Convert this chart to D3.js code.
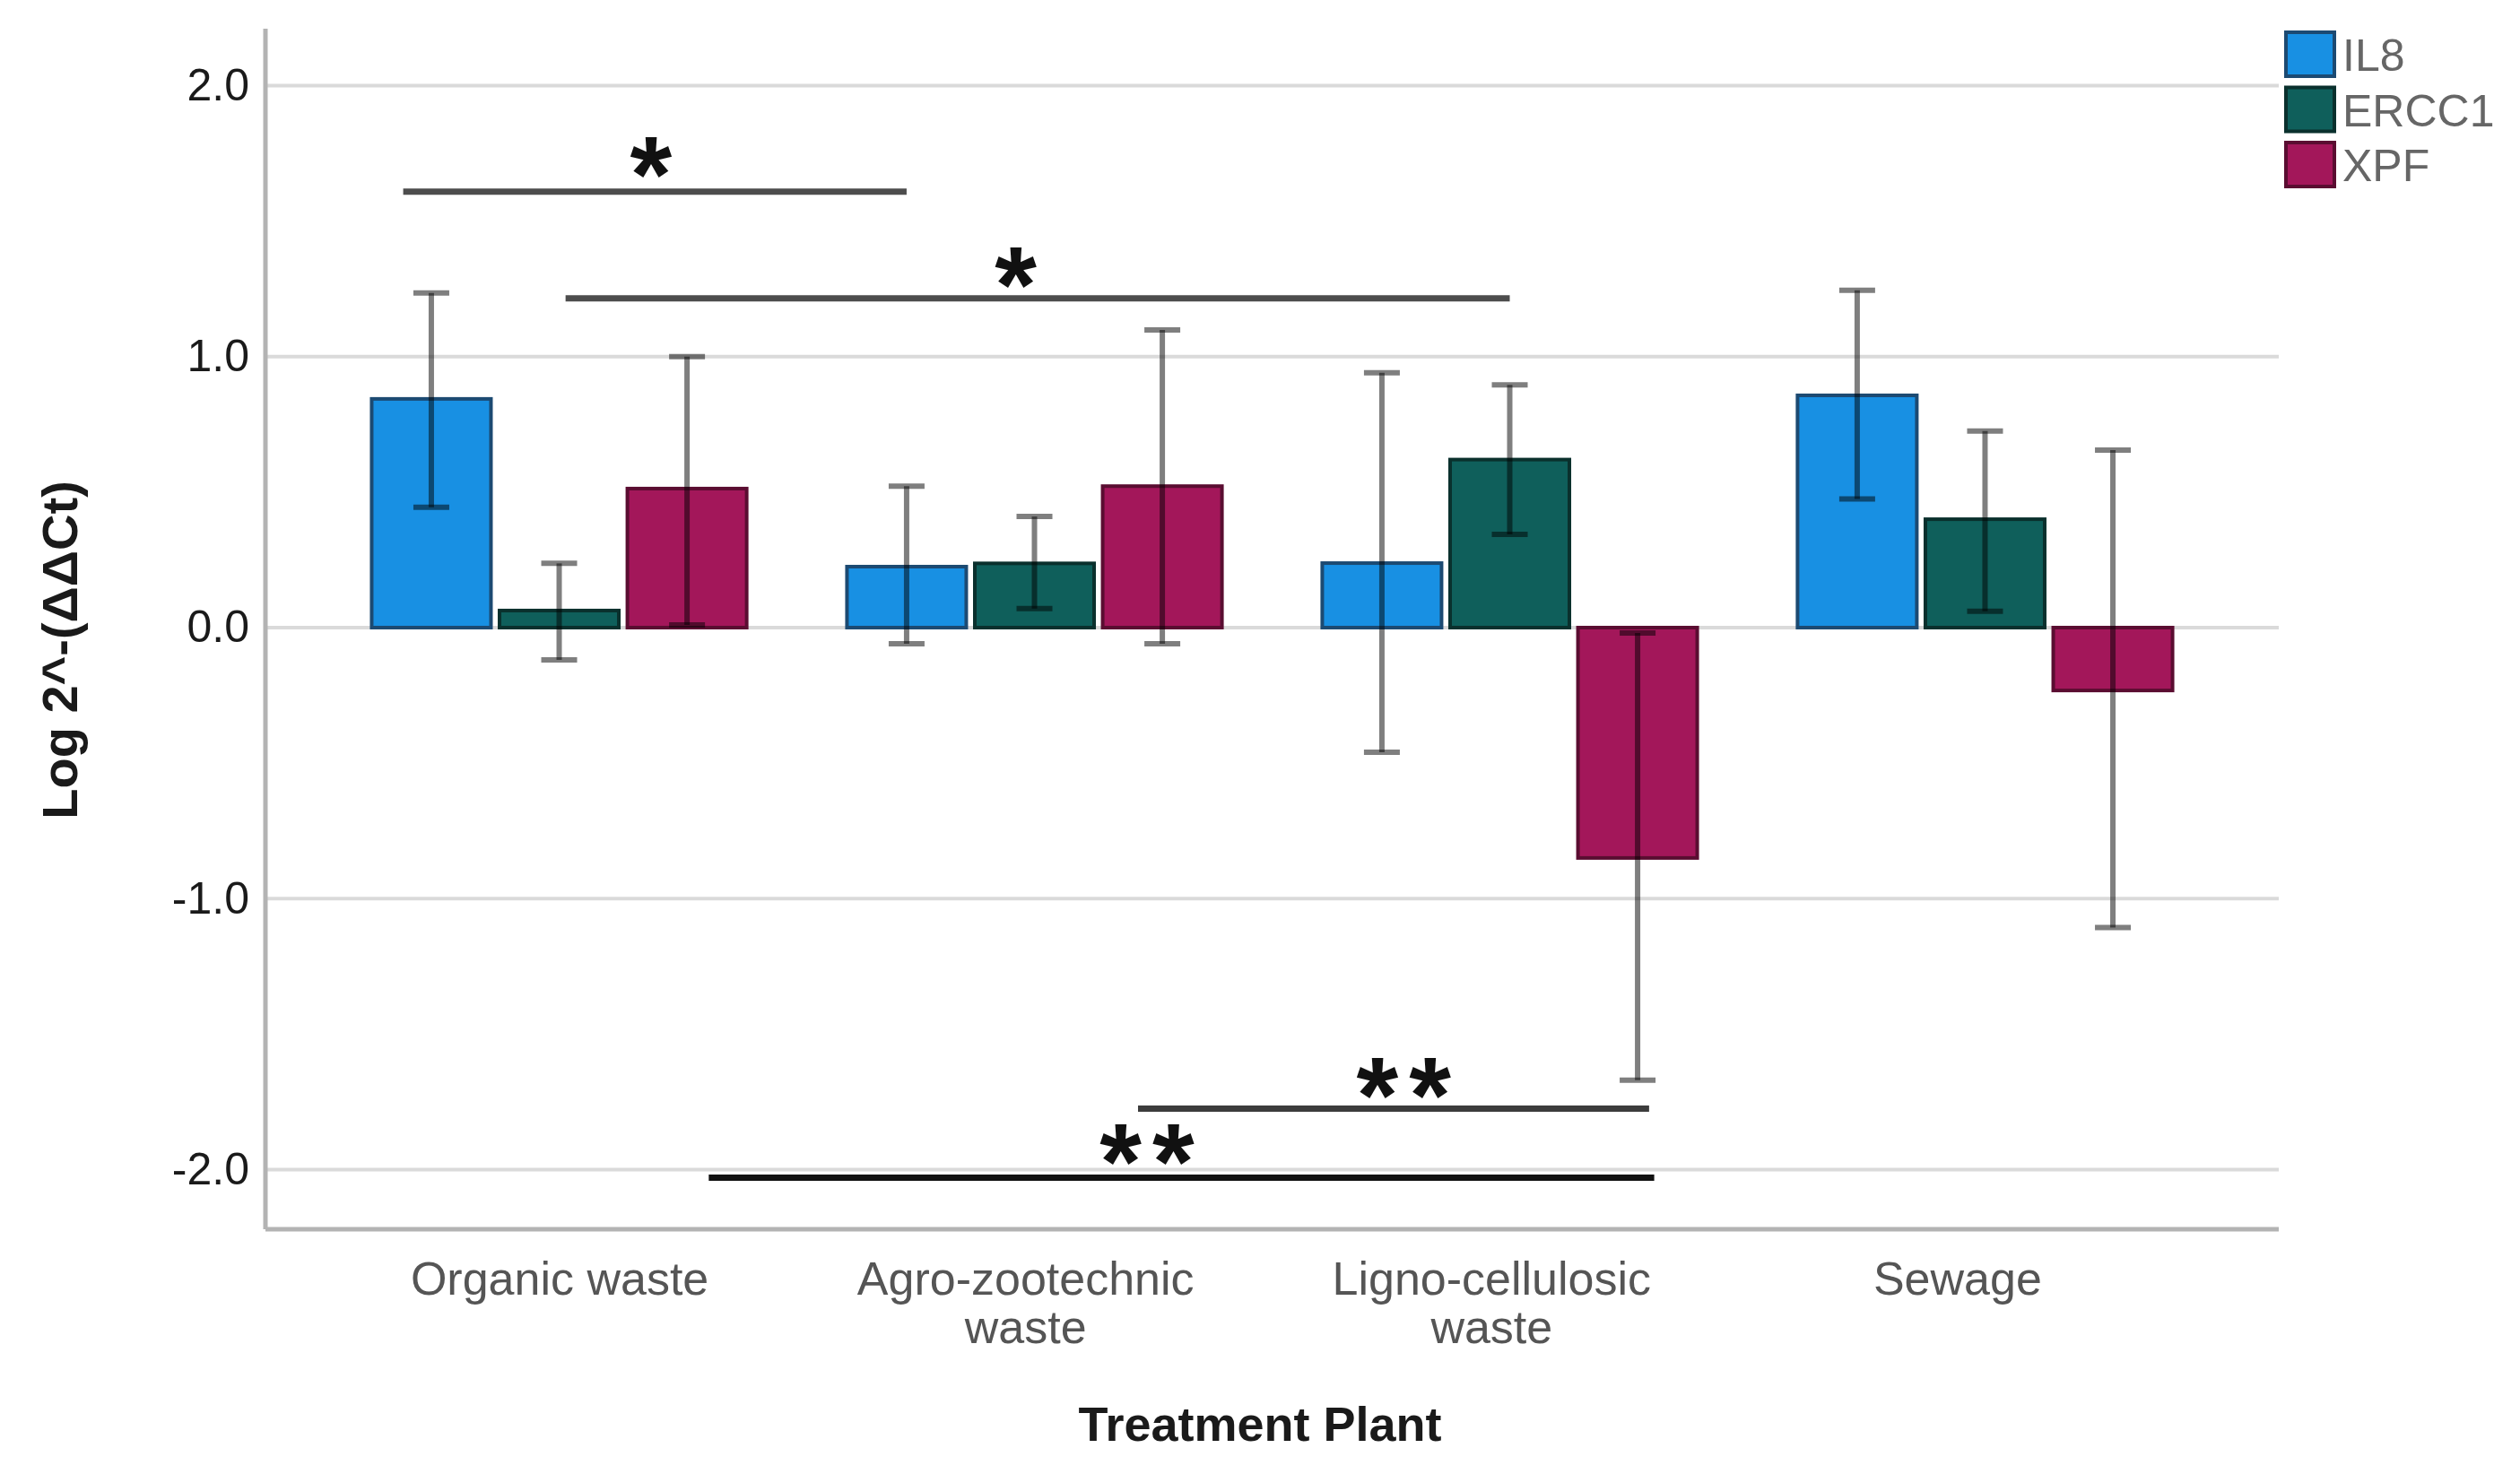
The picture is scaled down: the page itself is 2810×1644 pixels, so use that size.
<!DOCTYPE html>
<html lang='en'>
<head>
<meta charset="utf-8">
<script src="https://d3js.org/d3.v7.min.js"></script>
<style>
body { margin: 0; background: #fff; }
svg { display: block; font-family: "Liberation Sans", Arial, sans-serif; }
</style>
</head>
<body>
<svg id="chart" width="2810" height="1644"></svg>
<script>

// categories and series
var categories = ["Organic waste", "Agro-zootechnic waste", "Ligno-cellulosic waste", "Sewage"];
var categoryLines = [["Organic waste"], ["Agro-zootechnic", "waste"], ["Ligno-cellulosic", "waste"], ["Sewage"]];
var series = ["IL8", "ERCC1", "XPF"];
var seriesColors = ["#1890e3", "#0f5f5b", "#a3175a"];
var seriesStroke = ["#1c4a72", "#0a302d", "#5a0d31"];

// means and error bar ends
var il8Mean = [0.844, 0.225, 0.238, 0.857];
var il8Low = [0.444, -0.06, -0.46, 0.475];
var il8High = [1.235, 0.522, 0.94, 1.245];

var ercc1Mean = [0.063, 0.237, 0.62, 0.40];
var ercc1Low = [-0.119, 0.07, 0.344, 0.06];
var ercc1High = [0.237, 0.41, 0.896, 0.725];

var xpfMean = [0.513, 0.522, -0.85, -0.232];
var xpfLow = [0.01, -0.06, -1.67, -1.107];
var xpfHigh = [1.0, 1.098, -0.02, 0.655];

var yTicks = [-2, -1, 0, 1, 2];
var yTickLabels = ["-2.0", "-1.0", "0.0", "1.0", "2.0"];

// significance brackets (group index + offset in bar slots from group centre)
var sigFromGroup = [0, 0, 1, 0];
var sigFromOffset = [-1.22, 0.05, 0.81, 1.17];
var sigToGroup = [1, 2, 2, 2];
var sigToOffset = [-1.0, 0.0, 1.09, 1.13];
var sigLevel = [1.609, 1.215, -1.775, -2.03];
var sigMark = ["*", "*", "**", "**"];
var sigMarkGroup = [0, 1, 2, 1];
var sigMarkOffset = [0.76, -0.105, -0.83, 0.88];
var sigMarkLevel = [1.745, 1.338, -1.652, -1.897];
var sigColor = ["#4d4d4d", "#4d4d4d", "#3c3c3c", "#111111"];

var means = [il8Mean, ercc1Mean, xpfMean];
var lows = [il8Low, ercc1Low, xpfLow];
var highs = [il8High, ercc1High, xpfHigh];

var rows = [];
categories.forEach(function(c, i) {
  series.forEach(function(s, k) {
    rows.push({cat: c, ser: s, k: k, mean: means[k][i], low: lows[k][i], high: highs[k][i]});
  });
});

var svg = d3.select("#chart");
var plotL = 296, plotR = 2541, plotT = 32, plotB = 1371;

var y = d3.scaleLinear().domain([-2.22, 2.21]).range([plotB, plotT]);

var x0 = d3.scaleBand().domain(categories).range([plotL, plotR])
  .paddingInner(0.193).paddingOuter(0.2145);
var x1 = d3.scaleBand().domain(series).range([0, x0.bandwidth()])
  .paddingInner(0.067).paddingOuter(0.0335);
// the category labels sit on a slightly tighter spacing than the bar groups
var xLab = d3.scaleBand().domain(categories).range([303, 2504])
  .paddingInner(0.193).paddingOuter(0.2145);

function slotX(g, off) {
  return x0(categories[g]) + x0.bandwidth() / 2 + off * x1.step();
}

// gridlines
svg.append("g")
  .selectAll("line")
  .data(yTicks)
  .enter().append("line")
  .attr("x1", plotL).attr("x2", plotR)
  .attr("y1", function(d) { return y(d); })
  .attr("y2", function(d) { return y(d); })
  .style("stroke", "#dadada")
  .style("stroke-width", 4);

// y tick labels
var yAxis = svg.append("g")
  .attr("transform", "translate(" + (plotL - 18) + ",0)")
  .call(d3.axisLeft(y).tickValues(yTicks)
    .tickFormat(function(d, i) { return yTickLabels[i]; })
    .tickSize(0).tickPadding(0));
yAxis.select(".domain").remove();
yAxis.selectAll("text")
  .style("font-family", "Liberation Sans, Arial, sans-serif")
  .style("font-size", "50px")
  .style("fill", "#1a1a1a");

// bars
svg.append("g")
  .selectAll("rect")
  .data(rows)
  .enter().append("rect")
  .attr("x", function(d) { return x0(d.cat) + x1(d.ser); })
  .attr("width", x1.bandwidth())
  .attr("y", function(d) { return y(Math.max(0, d.mean)); })
  .attr("height", function(d) { return Math.abs(y(d.mean) - y(0)); })
  .style("fill", function(d) { return seriesColors[d.k]; })
  .style("stroke", function(d) { return seriesStroke[d.k]; })
  .style("stroke-width", 4);

// error bars
var eb = svg.append("g")
  .selectAll("g")
  .data(rows)
  .enter().append("g")
  .style("stroke", "#000")
  .style("stroke-opacity", 0.5)
  .style("stroke-width", 6);

eb.append("line")
  .attr("x1", function(d) { return x0(d.cat) + x1(d.ser) + x1.bandwidth() / 2; })
  .attr("x2", function(d) { return x0(d.cat) + x1(d.ser) + x1.bandwidth() / 2; })
  .attr("y1", function(d) { return y(d.low); })
  .attr("y2", function(d) { return y(d.high); });

["low", "high"].forEach(function(end) {
  eb.append("line")
    .attr("x1", function(d) { return x0(d.cat) + x1(d.ser) + x1.bandwidth() / 2 - 20; })
    .attr("x2", function(d) { return x0(d.cat) + x1(d.ser) + x1.bandwidth() / 2 + 20; })
    .attr("y1", function(d) { return y(d[end]); })
    .attr("y2", function(d) { return y(d[end]); });
});

// axis lines
svg.append("line")
  .attr("x1", plotL).attr("x2", plotL).attr("y1", plotT).attr("y2", plotB)
  .style("stroke", "#b3b3b3").style("stroke-width", 5);
svg.append("line")
  .attr("x1", plotL).attr("x2", plotR).attr("y1", plotB).attr("y2", plotB)
  .style("stroke", "#b3b3b3").style("stroke-width", 5);

// significance lines and stars
var starSize = 120;
sigLevel.forEach(function(v, i) {
  svg.append("line")
    .attr("x1", slotX(sigFromGroup[i], sigFromOffset[i]))
    .attr("x2", slotX(sigToGroup[i], sigToOffset[i]))
    .attr("y1", y(v)).attr("y2", y(v))
    .style("stroke", sigColor[i])
    .style("stroke-width", 7);
  svg.append("text")
    .attr("x", slotX(sigMarkGroup[i], sigMarkOffset[i]) + (sigMark[i].length > 1 ? 6 : 0))
    .attr("y", y(sigMarkLevel[i]) + 0.53 * starSize)
    .attr("text-anchor", "middle")
    .style("font-size", starSize + "px")
    .style("font-weight", "bold")
    .style("letter-spacing", "12px")
    .style("fill", "#111")
    .text(sigMark[i]);
});

// category labels
var catLab = svg.append("g")
  .selectAll("text")
  .data(categories)
  .enter().append("text")
  .attr("x", function(d) { return xLab(d) + xLab.bandwidth() / 2; })
  .attr("y", 1444)
  .attr("text-anchor", "middle")
  .style("font-size", "52px")
  .style("fill", "#555");
catLab.selectAll("tspan")
  .data(function(d, i) { return categoryLines[i]; })
  .enter().append("tspan")
  .attr("x", function() { return d3.select(this.parentNode).attr("x"); })
  .attr("dy", function(d, j) { return j === 0 ? 0 : 54; })
  .text(function(d) { return d; });

// axis titles
svg.append("text")
  .attr("x", 1405).attr("y", 1607)
  .attr("text-anchor", "middle")
  .style("font-size", "54px")
  .style("font-weight", "bold")
  .style("fill", "#1a1a1a")
  .text("Treatment Plant");

svg.append("text")
  .attr("transform", "translate(86,725) rotate(-90)")
  .attr("text-anchor", "middle")
  .style("font-size", "56px")
  .style("font-weight", "bold")
  .style("fill", "#1a1a1a")
  .text("Log 2^-(ΔΔCt)");

// legend
var leg = svg.append("g")
  .selectAll("g")
  .data(series)
  .enter().append("g")
  .attr("transform", function(d, i) { return "translate(2549," + (36 + i * 61.5) + ")"; });
leg.append("rect")
  .attr("width", 54).attr("height", 49)
  .style("fill", function(d, i) { return seriesColors[i]; })
  .style("stroke", function(d, i) { return seriesStroke[i]; })
  .style("stroke-width", 4);
leg.append("text")
  .attr("x", 63).attr("y", 43)
  .style("font-size", "50px")
  .style("fill", "#666")
  .text(function(d) { return d; });

</script>
</body>
</html>
